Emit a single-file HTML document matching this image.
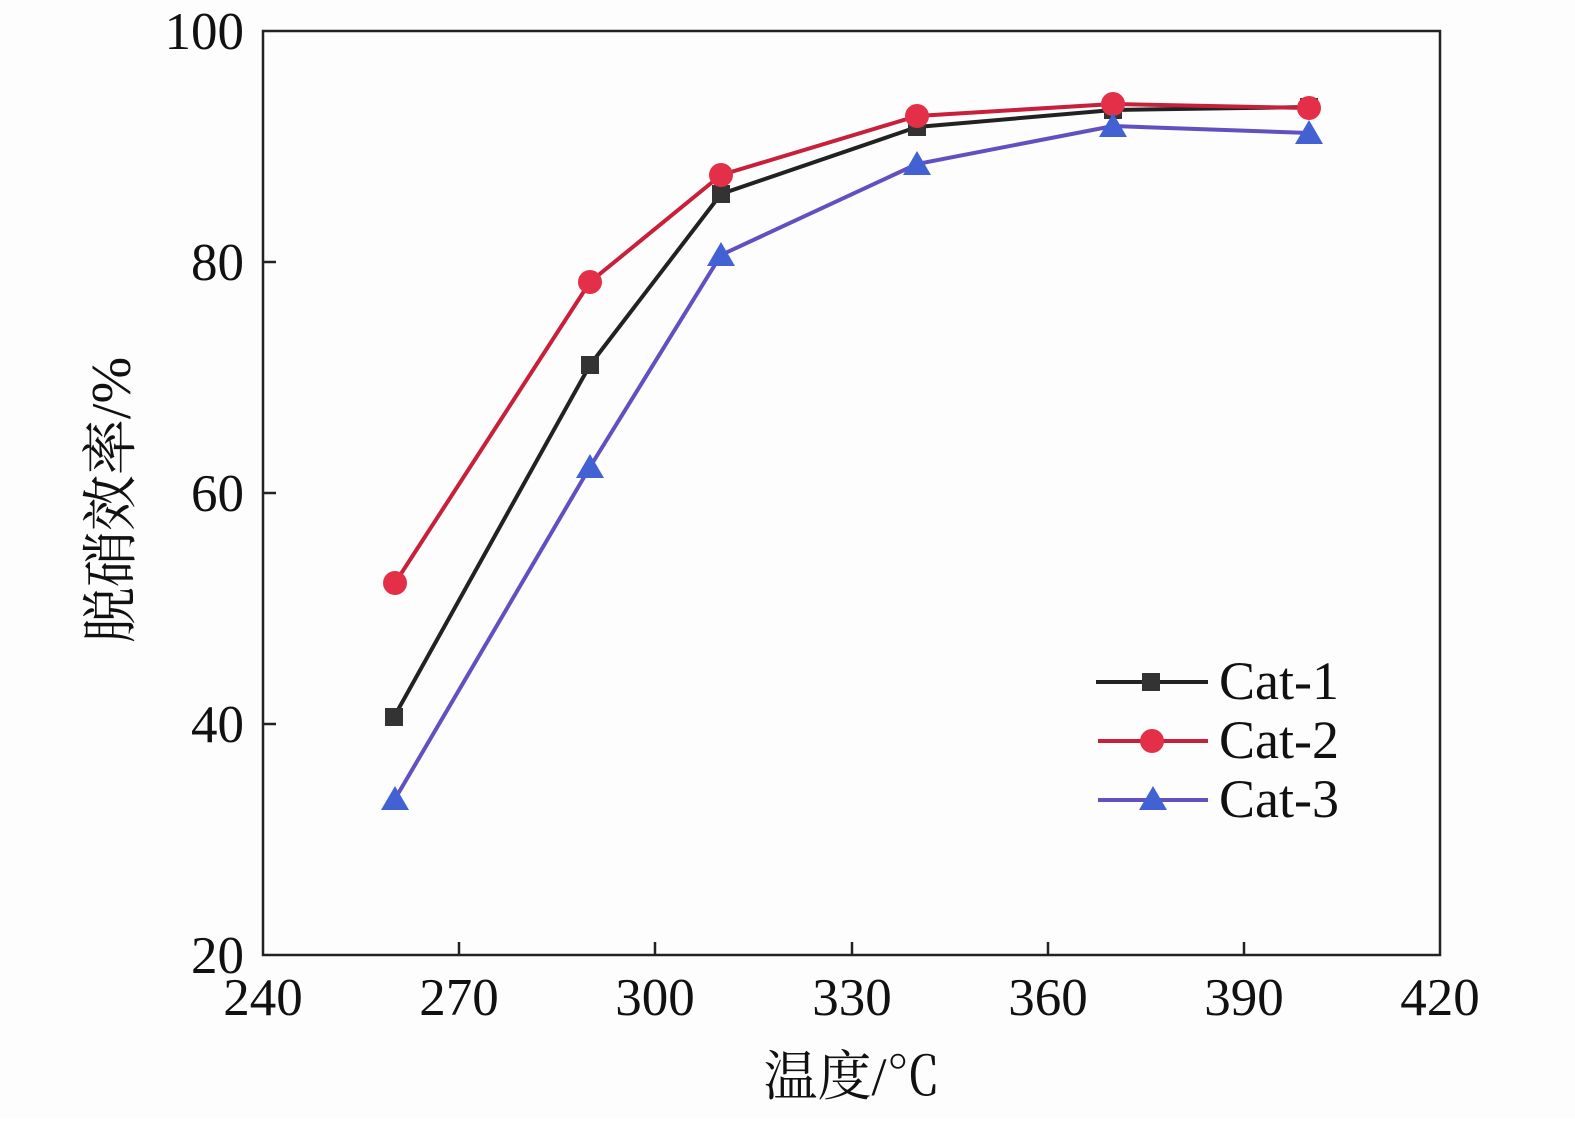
<!DOCTYPE html>
<html><head><style>html,body{margin:0;padding:0;background:#fff;}</style></head><body>
<svg width="1575" height="1118" viewBox="0 0 1575 1118" xmlns="http://www.w3.org/2000/svg" font-family="'Liberation Serif','Noto Serif CJK SC',serif">
<rect width="1575" height="1118" fill="#fdfdfd"/>
<rect x="263" y="31" width="1177" height="924" fill="none" stroke="#222" stroke-width="2.5"/>
<g stroke="#222" stroke-width="2.5">
<line x1="459" y1="955" x2="459" y2="942"/><line x1="655" y1="955" x2="655" y2="942"/><line x1="852" y1="955" x2="852" y2="942"/><line x1="1048" y1="955" x2="1048" y2="942"/><line x1="1244" y1="955" x2="1244" y2="942"/>
<line x1="263" y1="262" x2="276" y2="262"/><line x1="263" y1="493" x2="276" y2="493"/><line x1="263" y1="724" x2="276" y2="724"/>
</g>
<g font-size="53" fill="#111" text-anchor="middle">
<text x="263" y="1015">240</text><text x="459" y="1015">270</text><text x="655" y="1015">300</text><text x="852" y="1015">330</text><text x="1048" y="1015">360</text><text x="1244" y="1015">390</text><text x="1440" y="1015">420</text>
</g>
<g font-size="53" fill="#111" text-anchor="end">
<text x="244" y="49">100</text><text x="244" y="280">80</text><text x="244" y="511">60</text><text x="244" y="742">40</text><text x="244" y="973">20</text>
</g>
<text x="852" y="1095" font-size="54" fill="#111" text-anchor="middle">温度/℃</text>
<text transform="translate(130,500) rotate(-90)" font-size="56" fill="#111" text-anchor="middle">脱硝效率/%</text>
<polyline points="394,717 590,365 721,194 917,127 1113,110 1309,107" fill="none" stroke="#222" stroke-width="4"/>
<polyline points="395,583 590,282 721,175 917,116 1113,104 1309,108" fill="none" stroke="#c8203a" stroke-width="4"/>
<polyline points="395,799 590,467 721,255 917,164 1113,126 1309,133" fill="none" stroke="#6050c0" stroke-width="4"/>
<g fill="#333"><rect x="385" y="708" width="18" height="18"/><rect x="581" y="356" width="18" height="18"/><rect x="712" y="185" width="18" height="18"/><rect x="908" y="118" width="18" height="18"/><rect x="1104" y="101" width="18" height="18"/><rect x="1300" y="98" width="18" height="18"/></g>
<g fill="#e33048"><circle cx="395" cy="583" r="12"/><circle cx="590" cy="282" r="12"/><circle cx="721" cy="175" r="12"/><circle cx="917" cy="116" r="12"/><circle cx="1113" cy="104" r="12"/><circle cx="1309" cy="108" r="12"/></g>
<g fill="#4262d4"><polygon points="395,786 381,810 409,810"/><polygon points="590,454 576,478 604,478"/><polygon points="721,242 707,266 735,266"/><polygon points="917,151 903,175 931,175"/><polygon points="1113,113 1099,137 1127,137"/><polygon points="1309,120 1295,144 1323,144"/></g>
<line x1="1096" y1="682" x2="1208" y2="682" stroke="#222" stroke-width="4"/><rect x="1142" y="673" width="18" height="18" fill="#333"/>
<line x1="1098" y1="741" x2="1208" y2="741" stroke="#c8203a" stroke-width="4"/><circle cx="1152" cy="741" r="12" fill="#e33048"/>
<line x1="1098" y1="800" x2="1208" y2="800" stroke="#6050c0" stroke-width="4"/><polygon points="1153,786 1139,810 1167,810" fill="#4262d4"/>
<g font-size="54" fill="#111"><text x="1219" y="699">Cat-1</text><text x="1219" y="758">Cat-2</text><text x="1219" y="817">Cat-3</text></g>
</svg>
</body></html>
